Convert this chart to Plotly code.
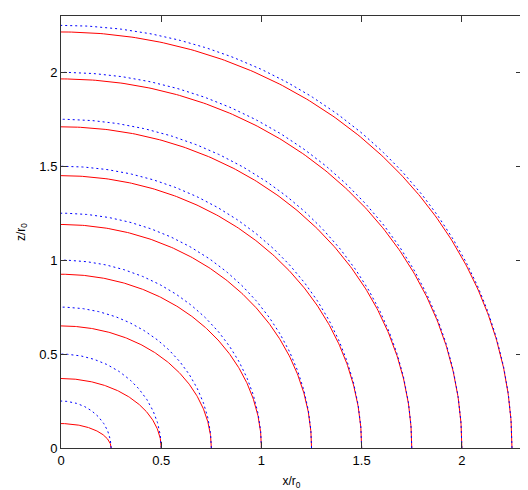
import numpy as np
import plotly.graph_objects as go

# Radii of the reference spheres (blue dotted) in units of r0
radii = [0.25, 0.5, 0.75, 1.0, 1.25, 1.5, 1.75, 2.0, 2.25]
# Equatorial (x) semi-axes of the deformed surfaces (red)
red_x = [0.25, 0.5, 0.75, 1.0, 1.25, 1.5, 1.75, 2.0, 2.25]
# Polar (z) semi-axes of the deformed surfaces (red)
red_z = [0.13, 0.37, 0.65, 0.925, 1.19, 1.45, 1.71, 1.965, 2.215]

tick_vals = [0, 0.5, 1, 1.5, 2]
tick_text = ["0", "0.5", "1", "1.5", "2"]

t = np.linspace(0, np.pi / 2, 200)

fig = go.Figure()
for a, b in zip(red_x, red_z):
    fig.add_trace(go.Scatter(x=a * np.cos(t), y=b * np.sin(t), mode="lines",
                             line=dict(color="#ff0000", width=1),
                             showlegend=False, hoverinfo="skip"))
for r in radii:
    fig.add_trace(go.Scatter(x=r * np.cos(t), y=r * np.sin(t), mode="lines",
                             line=dict(color="#0000ff", width=1, dash="2px,3px"),
                             showlegend=False, hoverinfo="skip"))

axis_common = dict(
    range=[0, 2.3], showgrid=False, zeroline=False, automargin=False,
    showline=True, linecolor="#333333", linewidth=1, mirror="ticks",
    ticks="inside", ticklen=6, tickcolor="#333333",
    tickvals=tick_vals, ticktext=tick_text,
    tickfont=dict(family="Liberation Sans, Arial, sans-serif", size=13, color="#000000"),
)

# The page body adds an 8px offset, so the figure is sized to fit the window
fig.update_layout(
    width=520, height=482,
    margin=dict(l=53, r=6, t=8, b=42),
    paper_bgcolor="white", plot_bgcolor="white",
    xaxis=dict(**axis_common,
               title=dict(text="x/r<sub>0</sub>", standoff=11,
                          font=dict(family="Liberation Sans, Arial, sans-serif", size=12, color="#000000"))),
    yaxis=dict(**axis_common,
               title=dict(text="z/r<sub>0</sub>", standoff=11,
                          font=dict(family="Liberation Sans, Arial, sans-serif", size=12, color="#000000"))),
)

fig.write_html("out.html")
